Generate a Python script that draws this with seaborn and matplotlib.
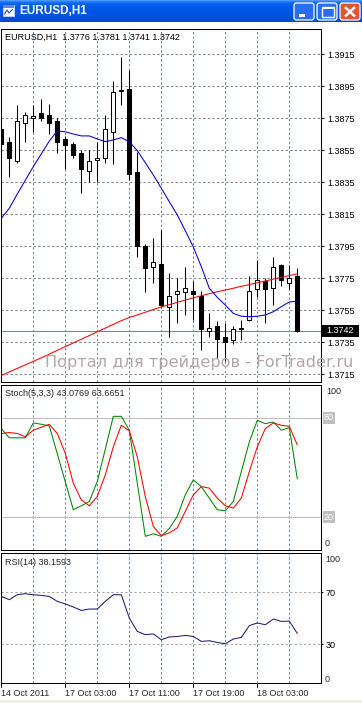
import numpy as np
import pandas as pd
import matplotlib
matplotlib.use("Agg")
import matplotlib.pyplot as plt
import matplotlib.transforms as mtransforms
from matplotlib.patches import Rectangle, FancyBboxPatch
import seaborn as sns

# ---------------- data ----------------
opens = [1.3868, 1.3860, 1.3848, 1.3872, 1.3875, 1.3878, 1.3877, 1.3873, 1.3862, 1.3859,
         1.3853, 1.3842, 1.3849, 1.3850, 1.3866, 1.3892, 1.3893, 1.3841, 1.3795, 1.3782,
         1.3784, 1.3757, 1.3765, 1.3766, 1.3767, 1.3764, 1.3742, 1.3745, 1.3738, 1.3736,
         1.3743, 1.3749, 1.3768, 1.3773, 1.3769, 1.3783, 1.3772, 1.3776]
highs = [1.3871, 1.3863, 1.3883, 1.3879, 1.3883, 1.3887, 1.3884, 1.3875, 1.3864, 1.3860,
         1.3855, 1.3855, 1.3860, 1.3877, 1.3898, 1.3913, 1.3905, 1.3854, 1.3796, 1.3800,
         1.3805, 1.3778, 1.3775, 1.3782, 1.3773, 1.3767, 1.3753, 1.3748, 1.3747, 1.3745,
         1.3749, 1.3776, 1.3786, 1.3775, 1.3788, 1.3784, 1.3783, 1.3781]
lows = [1.3845, 1.3838, 1.3847, 1.3860, 1.3866, 1.3873, 1.3865, 1.3853, 1.3843, 1.3850,
        1.3828, 1.3835, 1.3835, 1.3847, 1.3846, 1.3883, 1.3836, 1.3788, 1.3766, 1.3772,
        1.3757, 1.3738, 1.3747, 1.3752, 1.3749, 1.3730, 1.3738, 1.3725, 1.3723, 1.3734,
        1.3736, 1.3748, 1.3763, 1.3747, 1.3758, 1.3770, 1.3768, 1.3741]
closes = [1.3859, 1.3850, 1.3873, 1.3877, 1.3876, 1.3875, 1.3872, 1.3860, 1.3858, 1.3852,
          1.3843, 1.3848, 1.3850, 1.3868, 1.3891, 1.3892, 1.3840, 1.3795, 1.3781, 1.3785,
          1.3758, 1.3764, 1.3767, 1.3769, 1.3765, 1.3743, 1.3744, 1.3737, 1.3735, 1.3743,
          1.3744, 1.3767, 1.3774, 1.3768, 1.3782, 1.3774, 1.3775, 1.3742]
ma_fast = [1.38123, 1.38186, 1.38275, 1.38361, 1.38446, 1.38526, 1.38606, 1.38669, 1.38664, 1.38650,
           1.38638, 1.38638, 1.38619, 1.38602, 1.38613, 1.38627, 1.38602, 1.38546, 1.38471, 1.38394,
           1.38311, 1.38227, 1.38144, 1.38046, 1.37944, 1.37821, 1.37686, 1.37629, 1.37581, 1.37529,
           1.37511, 1.37508, 1.37511, 1.37519, 1.37539, 1.37571, 1.37600, 1.37606]
ma_slow = [1.37141, 1.37163, 1.37185, 1.37207, 1.37229, 1.37251, 1.37274, 1.37298, 1.37321, 1.37344,
           1.37367, 1.37390, 1.37414, 1.37437, 1.37460, 1.37483, 1.37503, 1.37519, 1.37536, 1.37553,
           1.37569, 1.37583, 1.37598, 1.37612, 1.37626, 1.37639, 1.37652, 1.37664, 1.37675, 1.37686,
           1.37698, 1.37709, 1.37720, 1.37731, 1.37743, 1.37754, 1.37765, 1.37776]
stoch_main = [73.6, 68.0, 68.0, 68.0, 77.0, 76.2, 75.2, 58.3, 41.3, 24.4,
              26.8, 29.4, 41.5, 61.1, 81.0, 81.0, 72.6, 40.5, 8.3, 9.8,
              8.3, 13.0, 20.4, 33.4, 42.5, 38.4, 31.4, 24.4, 23.8, 29.4,
              47.5, 65.5, 78.6, 76.6, 77.6, 72.6, 74.2, 43.08]
stoch_signal = [70.6, 71.2, 70.6, 68.6, 72.6, 74.4, 76.2, 70.6, 58.6, 40.5,
                30.4, 26.8, 32.4, 45.5, 62.5, 75.6, 72.2, 56.5, 32.4, 14.3,
                8.7, 10.4, 13.4, 23.4, 33.4, 38.4, 37.5, 31.4, 26.8, 25.4,
                31.4, 47.5, 62.5, 73.6, 77.0, 75.6, 75.0, 63.67]
rsi = [66.6, 64.1, 67.9, 68.7, 67.9, 67.4, 66.6, 62.8, 60.8, 58.5,
       55.8, 56.9, 56.9, 62.8, 67.9, 67.9, 50.0, 39.7, 37.2, 37.7,
       33.3, 35.4, 35.8, 36.6, 35.8, 32.0, 32.5, 31.2, 30.2, 33.8,
       35.1, 44.1, 46.2, 44.8, 49.2, 47.4, 47.6, 38.16]
price_ticks = [1.3715, 1.3735, 1.3755, 1.3775, 1.3795, 1.3815, 1.3835, 1.3855, 1.3875, 1.3895, 1.3915]
bid = 1.3742
grid_bars = [4, 8, 12, 16, 20, 24, 28, 32, 36]
time_bars = [0, 8, 16, 24, 32]
time_labels = ["14 Oct 2011", "17 Oct 03:00", "17 Oct 11:00", "17 Oct 19:00", "18 Oct 03:00"]
header = "EURUSD,H1  1.3776 1.3781 1.3741 1.3742"
stoch_title = "Stoch(5,3,3) 43.0769 63.6651"
rsi_title = "RSI(14) 38.1593"
window_title = "EURUSD,H1"
watermark = "Портал для трейдеров - ForTrader.ru"

# ---------------- style ----------------
sns.set_style("white")
plt.rcParams['font.family'] = ['Liberation Sans', 'DejaVu Sans']

W, H = 362, 703
fig = plt.figure(figsize=(W / 100, H / 100), dpi=100)
fig.patch.set_facecolor('white')


def rect(x0, y0, x1, y1):
    return [x0 / W, 1 - y1 / H, (x1 - x0) / W, (y1 - y0) / H]


def fy(y):
    return 1 - y / H


n = len(opens)
df = pd.DataFrame({'bar': np.arange(n), 'open': opens, 'high': highs, 'low': lows,
                   'close': closes, 'ma_fast': ma_fast, 'ma_slow': ma_slow,
                   'k': stoch_main, 'd': stoch_signal, 'rsi': rsi})

XL = (-0.0375, 39.9625)
GRID = '#778899'
DASH = (0, (2.2, 2.2))
LW = 0.75
FS = 6.5

ax_m = fig.add_axes(rect(1, 29, 321, 382))
ax_s = fig.add_axes(rect(1, 385, 321, 550))
ax_r = fig.add_axes(rect(1, 553, 321, 683))

for ax in (ax_m, ax_s, ax_r):
    ax.set_facecolor('white')
    for sp in ax.spines.values():
        sp.set_color('black')
        sp.set_linewidth(LW)
    for g in grid_bars:
        ax.axvline(g, color=GRID, lw=LW, ls=DASH, zorder=0.5)

# ---------------- main panel ----------------
for p in price_ticks:
    ax_m.axhline(p, color=GRID, lw=LW, ls=DASH, zorder=0.5)
ax_m.axhline(bid, color=GRID, lw=LW, zorder=0.6)

up = df['close'] >= df['open']
ax_m.vlines(df['bar'], df['low'], df['high'], color='black', lw=LW, zorder=3)
body = np.maximum((df['close'] - df['open']).abs(), 0.00002)
ax_m.bar(df['bar'], body, bottom=np.minimum(df['open'], df['close']), width=0.5,
         color=np.where(up, 'white', 'black'), edgecolor='black', linewidth=LW, zorder=4)

sns.lineplot(data=df, x='bar', y='ma_slow', ax=ax_m, color='#FF0000', lw=LW, zorder=5, legend=False)
sns.lineplot(data=df, x='bar', y='ma_fast', ax=ax_m, color='#0000DD', lw=LW, zorder=5, legend=False)

ax_m.set_xlim(*XL)
ax_m.set_ylim(1.3710, 1.3930625)
ax_m.set_xticks([])
ax_m.yaxis.tick_right()
ax_m.set_yticks(price_ticks)
ax_m.set_yticklabels([f"{p:.4f}" for p in price_ticks])
ax_m.tick_params(axis='y', right=True, left=False, length=2.2, width=LW, pad=2.2,
                 labelsize=FS, colors='black')
ax_m.set_xlabel('')
ax_m.set_ylabel('')

tr_m = mtransforms.blended_transform_factory(fig.transFigure, ax_m.transData)
ax_m.add_patch(Rectangle((322 / W, bid - 6 / 16000), 37 / W, 12 / 16000, transform=tr_m,
                         facecolor='black', edgecolor='none', clip_on=False, zorder=6))
ax_m.text(340.5 / W, bid, f"{bid:.4f}", transform=tr_m, color='white', ha='center',
          va='center', fontsize=FS, clip_on=False, zorder=7)
fig.text(5 / W, fy(37), header, fontsize=FS, va='center', ha='left', color='black')

# ---------------- stochastic ----------------
ax_s.axhline(80, color='#C0C0C0', lw=LW, zorder=0.6)
ax_s.axhline(20, color='#C0C0C0', lw=LW, zorder=0.6)
sns.lineplot(data=df, x='bar', y='k', ax=ax_s, color='#008800', lw=LW, legend=False)
sns.lineplot(data=df, x='bar', y='d', ax=ax_s, color='#FF0000', lw=LW, legend=False)
ax_s.set_xlim(*XL)
ax_s.set_ylim(0, 100)
ax_s.set_xticks([])
ax_s.set_yticks([])
ax_s.set_xlabel('')
ax_s.set_ylabel('')
tr_s = mtransforms.blended_transform_factory(fig.transFigure, ax_s.transData)
for lv in (80, 20):
    ax_s.text(324 / W, lv, str(lv), transform=tr_s, color='white', ha='left', va='center',
              fontsize=FS, clip_on=False,
              bbox=dict(boxstyle='square,pad=0.12', fc='#C0C0C0', ec='none'))
fig.text(326 / W, fy(391.5), "100", fontsize=FS, va='center', ha='left')
fig.text(325 / W, fy(543.5), "0", fontsize=FS, va='center', ha='left')
fig.text(5 / W, fy(394), stoch_title, fontsize=FS, va='center', ha='left')

# ---------------- RSI ----------------
ax_r.axhline(70, color='#A8A8A8', lw=LW, ls=DASH, zorder=0.6)
ax_r.axhline(30, color='#A8A8A8', lw=LW, ls=DASH, zorder=0.6)
sns.lineplot(data=df, x='bar', y='rsi', ax=ax_r, color='#1E1E72', lw=LW, legend=False)
ax_r.set_xlim(*XL)
ax_r.set_ylim(0, 100)
ax_r.set_xticks([])
ax_r.yaxis.tick_right()
ax_r.set_yticks([70, 30])
ax_r.set_yticklabels(["70", "30"])
ax_r.tick_params(axis='y', right=True, left=False, length=1.6, width=LW, pad=1.5,
                 labelsize=FS, colors='black')
ax_r.set_xlabel('')
ax_r.set_ylabel('')
fig.text(325 / W, fy(560), "100", fontsize=FS, va='center', ha='left')
fig.text(325 / W, fy(679), "0", fontsize=FS, va='center', ha='left')
fig.text(5 / W, fy(562.5), rsi_title, fontsize=FS, va='center', ha='left')

tr_x = mtransforms.blended_transform_factory(ax_r.transData, fig.transFigure)
for b, lab in zip(time_bars, time_labels):
    ax_r.plot([b, b], [fy(683), fy(687)], transform=tr_x, color='black', lw=LW, clip_on=False)
    ax_r.text(b + 0.02, fy(693), lab, transform=tr_x, fontsize=FS, ha='left', va='center',
              clip_on=False)

# ---------------- window chrome / overlay ----------------
ov = fig.add_axes([0, 0, 1, 1], zorder=20)
ov.set_facecolor('none')
ov.axis('off')

rows = np.arange(22)
kx = [0, 1, 3, 6, 16, 21]
cr = [0.30, 0.16, 0.04, 0.00, 0.00, 0.00]
cg = [0.60, 0.50, 0.40, 0.35, 0.33, 0.28]
cb = [1.00, 0.98, 0.95, 0.92, 0.88, 0.80]
grad = np.stack([np.interp(rows, kx, cr), np.interp(rows, kx, cg), np.interp(rows, kx, cb)], axis=1)
grad = grad[:, None, :]
ov.imshow(grad, extent=(0, W, 22, 0), aspect='auto', interpolation='bilinear', zorder=1)
ov.text(19, 11.5, window_title, color='white', fontweight='bold', fontsize=8.5,
        va='center', ha='left', zorder=3)
# icon
ov.add_patch(Rectangle((3, 5), 11, 11, fc='white', ec='#C8D8F0', lw=0.6, zorder=3))
ov.add_patch(Rectangle((3, 5), 11, 2.5, fc='#5A8AD8', ec='none', zorder=3))
ov.plot([4.5, 7, 9, 12.5], [14, 10, 13, 9.5], color='#2050B0', lw=0.8, zorder=4)
# buttons
for x0, fc in ((294, '#2B6DF0'), (317, '#2B6DF0'), (340, '#E2542E')):
    ov.add_patch(FancyBboxPatch((x0, 3), 20, 17, boxstyle='round,pad=0,rounding_size=2.5',
                                fc=fc, ec='white', lw=0.9, zorder=3))
ov.add_patch(Rectangle((298.5, 14), 6.5, 2.5, fc='white', ec='none', zorder=4))
ov.add_patch(Rectangle((321.5, 6.5), 12, 10, fc='none', ec='white', lw=1.0, zorder=4))
ov.add_patch(Rectangle((321.5, 6.5), 12, 2.2, fc='white', ec='none', zorder=4))
ov.plot([345, 355], [7, 16.5], color='white', lw=1.8, zorder=4, solid_capstyle='butt')
ov.plot([355, 345], [7, 16.5], color='white', lw=1.8, zorder=4, solid_capstyle='butt')
# bottom frame strip
ov.add_patch(Rectangle((0, 700), W, 3, fc='#F1EFE2', ec='none', zorder=1))
# watermark
ov.text(199, 362, watermark, fontsize=11.6, color='#B4A6A6', ha='center', va='center',
        family=['DejaVu Sans'], zorder=2)

ov.set_xlim(0, W)
ov.set_ylim(H, 0)

fig.savefig("out.png", dpi=100)
